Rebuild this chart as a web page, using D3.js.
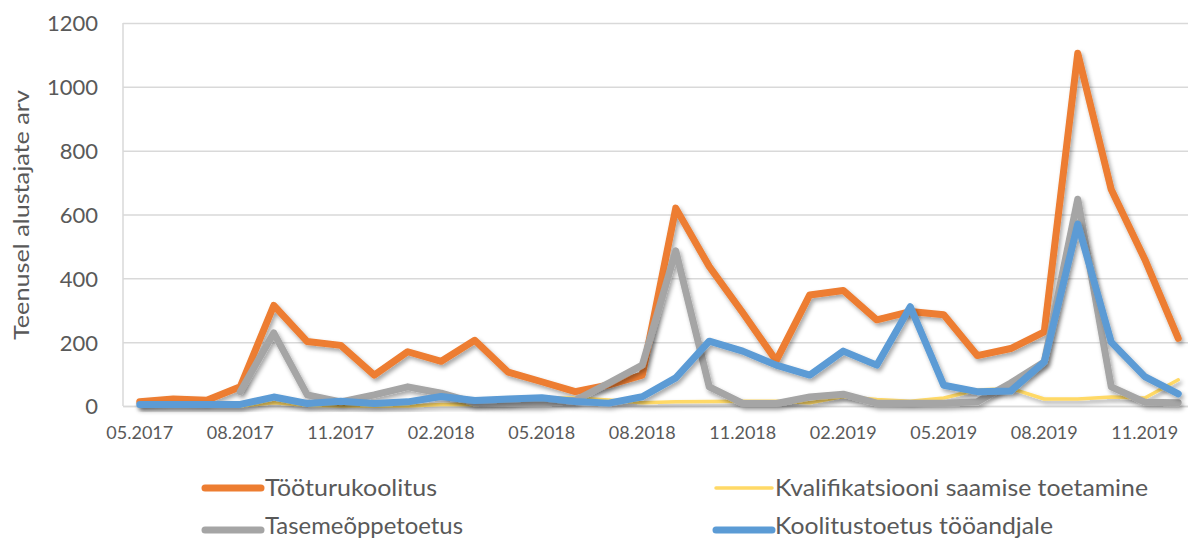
<!DOCTYPE html>
<html>
<head>
<meta charset="utf-8">
<script src="https://cdn.jsdelivr.net/npm/d3@7"></script>
<style>
  html, body { margin: 0; padding: 0; background: #fff; }
  svg { display: block; }
  text { font-family: Lato, "Open Sans", sans-serif; fill: #595959; }
</style>
</head>
<body>
<svg id="chart" width="1188" height="542"></svg>
<script>
// ---- data ----
const months = ["05.2017","06.2017","07.2017","08.2017","09.2017","10.2017","11.2017","12.2017",
  "01.2018","02.2018","03.2018","04.2018","05.2018","06.2018","07.2018","08.2018","09.2018","10.2018","11.2018","12.2018",
  "01.2019","02.2019","03.2019","04.2019","05.2019","06.2019","07.2019","08.2019","09.2019","10.2019","11.2019","12.2019"];
const tickLabels = ["05.2017","08.2017","11.2017","02.2018","05.2018","08.2018","11.2018","02.2019","05.2019","08.2019","11.2019"];
const yTicks = [0, 200, 400, 600, 800, 1000, 1200];
const seriesNames = ["Tööturukoolitus", "Kvalifikatsiooni saamise toetamine", "Tasemeõppetoetus", "Koolitustoetus tööandjale"];
const tooturukoolitus = [13, 22, 18, 60, 315, 202, 190, 97, 170, 140, 206, 106, 76, 45, 66, 97, 620, 437, 292, 142, 348, 362, 270, 296, 286, 158, 180, 232, 1105, 678, 460, 212];
const kvalifikatsioon = [0, 0, 0, 0, 10, 2, 0, 0, 0, 5, 5, 10, 25, 25, 19, 10, 13, 14, 15, 15, 10, 30, 20, 15, 25, 50, 55, 22, 22, 28, 25, 82];
const tasemeope = [null, null, null, 45, 229, 35, 13, 35, 60, 40, 10, 8, 8, 18, 72, 128, 486, 60, 8, 8, 28, 37, 9, 9, 9, 13, 72, 138, 648, 60, 12, 10];
const koolitustoetus = [5, 5, 5, 5, 28, 8, 15, 8, 13, 30, 17, 22, 26, 14, 9, 29, 88, 203, 172, 128, 97, 172, 128, 311, 65, 45, 47, 138, 570, 200, 92, 38];
const yTitle = "Teenusel alustajate arv";

(function () {
const seriesValues = [tooturukoolitus, kvalifikatsioon, tasemeope, koolitustoetus];
const colors = ["#ED7D31", "#FFD966", "#A5A5A5", "#5B9BD5"];
const widths = [7, 3.5, 7, 7];

// ---- layout ----
const svg = d3.select("#chart");
const mLeft = 123, mTop = 23, mBottom = 406;
const bandW = 33.5;
const mRight = mLeft + months.length * bandW;

const x = d3.scaleBand().domain(months).range([mLeft, mRight]).padding(0);
const y = d3.scaleLinear().domain([0, 1200]).range([mBottom, mTop]);

const defs = svg.append("defs");
const f = defs.append("filter").attr("id", "shadow")
  .attr("x", "-5%").attr("y", "-10%").attr("width", "110%").attr("height", "130%");
f.append("feDropShadow").attr("dx", 2).attr("dy", 3).attr("stdDeviation", 2)
  .attr("flood-color", "#000").attr("flood-opacity", 0.35);

// gridlines
const yAxis = d3.axisLeft(y).tickValues(yTicks).tickSize(-(mRight - mLeft)).tickPadding(25).tickFormat(d3.format("d"));
const gy = svg.append("g").attr("transform", `translate(${mLeft},0)`).call(yAxis);
gy.select(".domain").remove();
gy.selectAll(".tick line").attr("stroke", "#D9D9D9").attr("stroke-width", 1.5);
gy.selectAll(".tick text").style("font-size", "22px").attr("fill", "#595959").attr("dy", "0.36em");

// left axis line
svg.append("line").attr("x1", mLeft).attr("x2", mLeft).attr("y1", mTop).attr("y2", mBottom)
  .attr("stroke", "#D9D9D9").attr("stroke-width", 1.5);

// x axis
const xAxis = d3.axisBottom(x).tickValues(tickLabels).tickSize(0).tickPadding(20);
const gx = svg.append("g").attr("transform", `translate(0,${mBottom})`).call(xAxis);
gx.select(".domain").attr("stroke", "#D9D9D9").attr("stroke-width", 1.5);
gx.selectAll(".tick text").style("font-size", "18px").attr("fill", "#595959");

// y title
svg.append("text").attr("transform", `translate(29,215) rotate(-90)`)
  .attr("text-anchor", "middle").style("font-size", "22px")
  .attr("textLength", 250).attr("lengthAdjust", "spacingAndGlyphs")
  .text(yTitle);

// lines
const line = d3.line()
  .defined(d => d !== null)
  .x((d, i) => x(months[i]) + x.bandwidth() / 2).y(d => y(d));
seriesValues.forEach((vals, k) => {
  svg.append("path").datum(vals)
    .attr("d", line)
    .attr("fill", "none")
    .attr("stroke", colors[k])
    .attr("stroke-width", widths[k])
    .attr("stroke-linejoin", "round")
    .attr("stroke-linecap", "round")
    .attr("filter", "url(#shadow)");
});

// legend
const legendPos = [
  { x: 205, y: 488, ty: 496, tx: 265, tl: 172 },
  { x: 716, y: 488, ty: 496, tx: 775, tl: 373 },
  { x: 205, y: 530, ty: 534, tx: 265, tl: 198 },
  { x: 716, y: 530, ty: 534, tx: 775, tl: 278 }
];
seriesNames.forEach((name, k) => {
  const p = legendPos[k];
  svg.append("line").attr("x1", p.x).attr("x2", p.x + 56).attr("y1", p.y).attr("y2", p.y)
    .attr("stroke", colors[k]).attr("stroke-width", widths[k]).attr("stroke-linecap", "round");
  svg.append("text").attr("x", p.tx).attr("y", p.ty)
    .style("font-size", "23px")
    .attr("textLength", p.tl).attr("lengthAdjust", "spacingAndGlyphs")
    .text(name);
});
})();
</script>
</body>
</html>
